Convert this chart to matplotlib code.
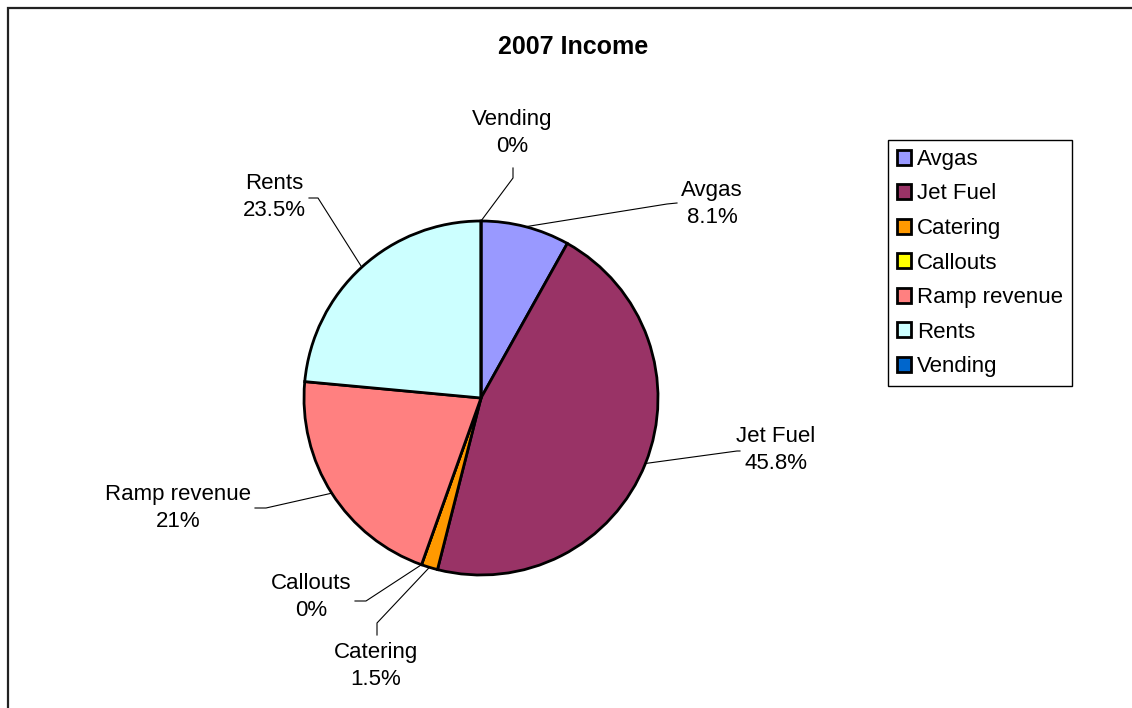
import numpy as np
import matplotlib
matplotlib.use("Agg")
import matplotlib.pyplot as plt
from matplotlib.patches import Rectangle

plt.rcParams['font.family'] = ['Liberation Sans', 'DejaVu Sans']

# data (percent of 2007 income)
categories = ['Avgas', 'Jet Fuel', 'Catering', 'Callouts', 'Ramp revenue', 'Rents', 'Vending']
shares = [8.1, 45.8, 1.5, 0.0, 21.0, 23.5, 0.0]
colors = ['#9999FF', '#993366', '#FF9900', '#FFFF00', '#FF8080', '#CCFFFF', '#0066CC']

W, H = 1132, 708
CX, CY, R = 481, 398, 177

# label text spot and leader bends, in pixel coords (y down)
label_pos = [(712, 204), (776, 450), (376, 666), (311, 597), (178, 508), (274, 197), (512, 133)]
leader_bends = [
  [(667, 204), (677, 203)],
  [(737, 451), (740, 451)],
  [(377, 623), (377, 635)],
  [(366, 601), (355, 601)],
  [(266, 508), (255, 508)],
  [(318, 198), (309, 198)],
  [(513, 178), (513, 168)],
]


def main():
  fig = plt.figure(figsize=(W/100, H/100), dpi=100)
  ax = fig.add_axes([0, 0, 1, 1])

  wedges, _ = ax.pie(shares, colors=colors, startangle=90, counterclock=False,
                     center=(CX, H-CY), radius=R,
                     wedgeprops=dict(edgecolor='black', linewidth=2))
  ax.set_xlim(0, W)
  ax.set_ylim(0, H)
  ax.set_aspect('equal')
  ax.axis('off')

  for w, name, val, (tx, ty), bends in zip(wedges, categories, shares, label_pos, leader_bends):
    mid = np.deg2rad((w.theta1 + w.theta2) / 2)
    xs = [CX + R*np.cos(mid)] + [b[0] for b in bends]
    ys = [H-CY + R*np.sin(mid)] + [H-b[1] for b in bends]
    ax.plot(xs, ys, color='black', lw=0.8)
    ax.text(tx, H-ty, "{}\n{:g}%".format(name, val), ha='center', va='center',
            fontsize=16, linespacing=1.4)

  ax.text(573, H-47, '2007 Income', ha='center', va='center', fontsize=18, fontweight='bold')

  leg = fig.legend(wedges, categories, loc='upper left',
                   bbox_to_anchor=(888/W, 1-140/H), borderaxespad=0,
                   fontsize=16, fancybox=False, framealpha=1,
                   handlelength=0.65, handleheight=0.65, handletextpad=0.25,
                   labelspacing=0.61, borderpad=0.4)
  leg.get_frame().set_edgecolor('black')
  leg.get_frame().set_linewidth(1)

  # chart area border (left and top edges visible)
  fig.add_artist(Rectangle((8/W, -0.1), 2, 1-8/H+0.1, transform=fig.transFigure,
                           fill=False, edgecolor='#222222', lw=1.6))

  fig.savefig('out.png', dpi=100)


if __name__ == '__main__':
  main()
